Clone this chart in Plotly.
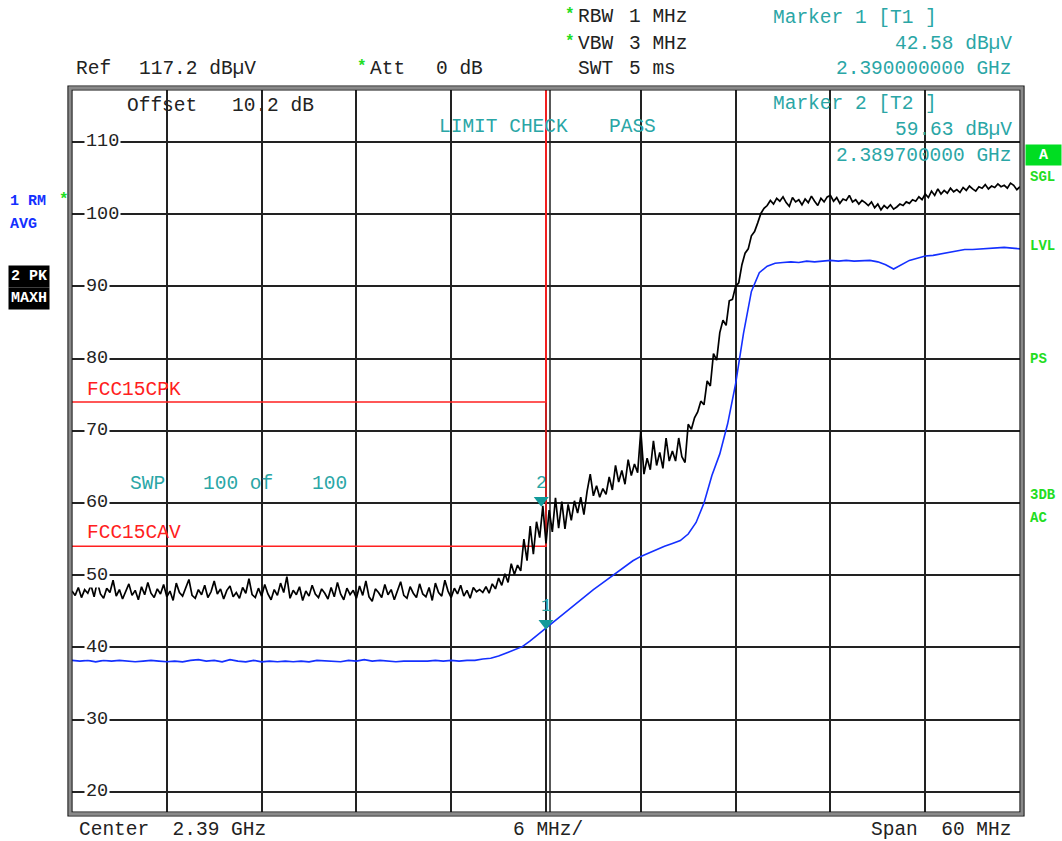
import numpy as np
import plotly.graph_objects as go

# ---------------- data ----------------
F_START_GHZ = 2.36
F_STOP_GHZ = 2.42

# Trace 2: PK / MAXH (black), 301 sweep points
pk_vals = [
    47.8, 47.2, 48.3, 46.9, 48.0, 47.5, 48.6, 47.0, 49.1, 47.4, 46.8, 48.2, 47.6, 49.3, 47.1, 48.0, 46.7, 47.9, 48.8, 47.2,
    47.9, 46.6, 48.4, 47.3, 49.0, 47.5, 46.9, 48.1, 47.4, 48.7, 47.0, 47.8, 46.5, 48.9, 47.6, 47.1, 48.3, 49.4, 47.2, 46.8,
    48.0, 47.3, 48.6, 46.9, 47.7, 49.2, 47.4, 48.1, 46.7, 47.9, 48.5, 47.0, 47.6, 46.8, 48.3, 47.5, 49.5, 47.3, 46.9, 48.2,
    47.1, 48.7, 47.4, 46.6, 48.0, 47.2, 48.9, 47.6, 49.8, 46.8, 47.9, 47.3, 48.4, 46.5, 47.8, 47.1, 48.6, 47.4, 46.9, 48.1,
    47.5, 46.7, 48.3, 47.0, 49.0, 47.4, 46.6, 48.2, 47.3, 47.9, 46.8, 48.5, 47.2, 49.2, 47.0, 46.4, 48.1, 47.6, 46.9, 48.7,
    47.3, 48.0, 46.6, 47.8, 49.1, 47.2, 46.8, 48.4, 47.5, 46.9, 48.8, 47.4, 47.0, 48.3, 46.5, 48.9, 47.6, 47.1, 49.3, 47.8,
    46.9, 48.2, 47.4, 48.6, 47.1, 47.9, 46.8, 48.3, 47.7, 48.0,
    47.6, 48.4, 47.5, 48.8, 48.1, 49.6, 48.6, 50.2, 49.0, 51.6,
    50.1, 51.4, 50.6, 55.0, 52.0, 56.8, 52.9, 57.4, 55.2, 59.6,
    54.4, 59.0, 56.0, 60.7, 56.5, 60.2, 56.4, 59.8, 57.6, 60.3,
    58.6, 60.8, 58.4, 61.6, 64.0, 61.0, 62.4, 60.8, 62.0, 61.2,
    63.6, 61.8, 65.2, 62.9, 64.5, 62.6, 66.0, 63.8, 65.4, 64.2,
    70.0, 64.0, 66.2, 64.6, 68.6, 65.2, 67.0, 64.8, 69.0, 65.8,
    67.2, 65.8, 69.0, 66.4, 65.6, 70.9, 70.2, 71.8, 72.6, 74.1,
    73.6, 76.9, 76.2, 80.7, 79.8, 83.6, 85.3, 84.6, 88.0, 88.2,
    90.0, 90.5, 93.0, 94.6, 95.2, 97.0, 97.6, 98.8, 100.1, 100.8,
    101.2,
    101.9, 101.4, 102.2, 101.8, 102.4, 101.6, 101.1, 102.3, 101.7, 102.0, 101.3, 102.1, 101.6, 102.5, 101.8, 101.2, 102.2, 101.7, 102.4, 102.6,
    101.8, 102.3, 101.5, 102.1, 101.9, 102.6, 101.7, 102.0, 101.4, 101.9, 101.6, 101.2, 101.7, 100.9, 101.4, 100.6, 101.2, 100.8, 101.3, 100.7,
    101.0, 101.4, 101.2, 101.7, 101.5, 102.0, 101.8, 102.4, 102.0, 102.8, 102.3, 103.2, 102.6, 103.5, 102.8, 103.3, 102.9, 103.6, 103.1, 103.4,
    103.0, 103.7, 103.3, 103.9, 103.5, 103.2, 103.8, 103.6, 104.1, 103.5, 103.9, 103.7, 104.2, 103.8, 104.0, 103.6, 104.3, 104.0, 103.4, 103.8,
]

# Trace 1: RM / AVG (blue), 121 sweep points
avg_vals = [
    38.2, 38.1, 38.2, 38.0, 38.2, 38.1, 38.2, 38.1, 38.0, 38.1, 38.2, 38.1, 38.0, 38.1, 38.0, 38.2, 38.3, 38.1, 38.2, 38.0,
    38.3, 38.1, 38.0, 38.2, 38.0, 38.1, 38.0, 38.1, 38.0, 38.1, 38.0, 38.2, 38.1, 38.1, 38.0, 38.2, 38.1, 38.3, 38.1, 38.2,
    38.1, 38.0, 38.1, 38.1, 38.0, 38.1, 38.2, 38.1, 38.2, 38.1,
    38.2, 38.2, 38.4, 38.5, 38.8, 39.2, 39.6, 40.1, 40.9, 41.8,
    42.6, 43.5, 44.4, 45.4, 46.3, 47.2, 48.0, 48.8, 49.6, 50.4,
    51.2, 52.0, 52.6, 53.1, 53.5, 54.0, 54.4, 54.8, 55.7, 57.3,
    60.0, 63.8, 66.8, 71.0, 76.5, 83.5, 89.3, 91.9, 92.8, 93.2,
    93.3, 93.4, 93.3, 93.5, 93.4, 93.5, 93.6, 93.5, 93.6, 93.5,
    93.6, 93.6, 93.4, 93.0, 92.4, 93.0, 93.6, 93.9, 94.2, 94.3,
    94.5, 94.6, 94.9, 95.1, 95.1, 95.2, 95.2, 95.3, 95.4, 95.3, 95.2,
]

marker_labels = ["1", "2"]
marker_freqs = [2.39, 2.3897]
marker_vals = [42.58, 59.63]

limit_names = ["FCC15CPK", "FCC15CAV"]
limit_vals = [74.0, 54.0]
limit_edge_ghz = 2.39

ref_level = 117.2
y_bottom = 17.2
y_ticks = [20, 30, 40, 50, 60, 70, 80, 90, 100, 110]

# ---------------- layout constants ----------------
W, H = 1062, 841
L, R, T, B = 72, 1020, 90, 812
PW, PH = R - L, B - T
FONT = "Courier New, Liberation Mono, monospace"
FS = 19.5
DARK = "#222222"
TEAL = "#2aa6a6"
GREEN = "#22dd22"
BLUE = "#1430ff"
RED = "#ff2020"


def px(x):
    return (x - L) / PW


def py(y):
    return (B - y) / PH


freq_pk = np.linspace(F_START_GHZ, F_STOP_GHZ, len(pk_vals))
freq_avg = np.linspace(F_START_GHZ, F_STOP_GHZ, len(avg_vals))

fig = go.Figure()

# limit lines
for name, v in zip(limit_names, limit_vals):
    fig.add_trace(go.Scatter(
        x=[F_START_GHZ, limit_edge_ghz, limit_edge_ghz],
        y=[v, v, ref_level],
        mode="lines", line=dict(color=RED, width=1.5),
        hoverinfo="skip", showlegend=False))

fig.add_trace(go.Scatter(x=freq_avg, y=avg_vals, mode="lines",
                         line=dict(color=BLUE, width=1.6), showlegend=False))
fig.add_trace(go.Scatter(x=freq_pk, y=pk_vals, mode="lines",
                         line=dict(color="#000000", width=1.7), showlegend=False))

# markers (triangle tip on the trace)
fig.add_trace(go.Scatter(
    x=marker_freqs, y=[v + 0.75 for v in marker_vals], mode="markers",
    marker=dict(symbol="triangle-down", size=13, color="#129a9a"),
    showlegend=False))

annotations = []


def txt(s, x, y, color=DARK, size=FS, anchor="left", bold=False, **kw):
    a = dict(text=s, xref="paper", yref="paper", x=px(x), y=py(y),
             xanchor=anchor, yanchor="middle", showarrow=False,
             font=dict(family=FONT, size=size, color=color,
                       weight="bold" if bold else "normal"))
    a.update(kw)
    annotations.append(a)


# marker numbers
for lab, f, v in zip(marker_labels, marker_freqs, marker_vals):
    annotations.append(dict(text=lab, x=f, y=v, xref="x", yref="y",
                            yshift=23, showarrow=False,
                            font=dict(family=FONT, size=18, color=TEAL)))

# y tick labels inside plot
for t in y_ticks:
    annotations.append(dict(text=str(t), xref="paper", yref="y", x=px(84), y=t,
                            xanchor="left", yanchor="middle", showarrow=False,
                            bgcolor="white", borderpad=1,
                            font=dict(family=FONT, size=18.5, color=DARK)))

# header texts
txt("Ref", 74, 69)
txt("117.2 dBµV", 137, 69)
txt("*", 355, 67, color=GREEN, size=16, bold=True)
txt("Att", 368, 69)
txt("0 dB", 434, 69)
txt("*", 563, 15, color=GREEN, size=16, bold=True)
txt("RBW", 576, 17)
txt("1 MHz", 627, 17)
txt("*", 563, 42, color=GREEN, size=16, bold=True)
txt("VBW", 576, 44)
txt("3 MHz", 627, 44)
txt("SWT", 576, 69)
txt("5 ms", 627, 69)

txt("Marker 1 [T1 ]", 771, 18, color=TEAL)
txt("42.58 dBµV", 1014, 44, color=TEAL, anchor="right")
txt("2.390000000 GHz", 1014, 69, color=TEAL, anchor="right")
txt("Marker 2 [T2 ]", 771, 104, color=TEAL)
txt("59.63 dBµV", 1014, 130, color=TEAL, anchor="right")
txt("2.389700000 GHz", 1014, 156, color=TEAL, anchor="right")

txt("Offset", 125, 106)
txt("10.2 dB", 230, 106)
txt("LIMIT CHECK", 437, 127, color=TEAL)
txt("PASS", 607, 127, color=TEAL)
txt("SWP", 128, 484, color=TEAL)
txt("100 of", 201, 484, color=TEAL)
txt("100", 310, 484, color=TEAL)
txt(limit_names[0], 85, 390, color=RED)
txt(limit_names[1], 85, 533, color=RED)

txt("Center  2.39 GHz", 77, 830)
txt("6 MHz/", 511, 830)
txt("Span  60 MHz", 1013, 830, anchor="right")

# left side trace info
txt("1 RM", 8, 201, color=BLUE, size=15, bold=True)
txt("*", 57, 200, color=GREEN, size=16, bold=True)
txt("AVG", 8, 224, color=BLUE, size=15, bold=True)
txt("2 PK", 8, 276, color="white", size=15, bold=True, bgcolor="black", borderpad=2)
txt("MAXH", 8, 298, color="white", size=15, bold=True, bgcolor="black", borderpad=2)

# right side status
annotations.append(dict(text="A", xref="paper", yref="paper", x=px(1025), y=py(155),
                        xanchor="left", yanchor="middle", showarrow=False,
                        bgcolor="#00dd22", width=33, height=18,
                        font=dict(family=FONT, size=15, color="white", weight="bold")))
for s, yy in [("SGL", 177), ("LVL", 246), ("PS", 359), ("3DB", 495), ("AC", 518)]:
    txt(s, 1028, yy, color=GREEN, size=14, bold=True)

# frame (double line) + doubled center grid line
shapes = []
shapes.append(dict(type="rect", xref="paper", yref="paper",
                   x0=px(L - 2), x1=px(R + 2), y0=py(B + 2), y1=py(T - 2),
                   line=dict(color="#8a8a8a", width=3), layer="above"))
for off in (0, 4):
    shapes.append(dict(type="rect", xref="paper", yref="paper",
                       x0=px(L - off), x1=px(R + off), y0=py(B + off), y1=py(T - off),
                       line=dict(color="#111111", width=1.2), layer="above"))
shapes.append(dict(type="line", xref="paper", yref="paper",
                   x0=px(550), x1=px(550), y0=0, y1=1,
                   line=dict(color="#222222", width=1.5), layer="below"))

fig.update_layout(
    width=W, height=H,
    margin=dict(l=L, r=W - R, t=T, b=H - B, pad=0),
    paper_bgcolor="white", plot_bgcolor="white",
    showlegend=False,
    annotations=annotations, shapes=shapes,
    xaxis=dict(range=[F_START_GHZ, F_STOP_GHZ], tick0=F_START_GHZ, dtick=0.006,
               showgrid=True, gridcolor="#222222", gridwidth=1.8,
               showticklabels=False, zeroline=False, showline=False, ticks=""),
    yaxis=dict(range=[y_bottom, ref_level], tick0=0, dtick=10,
               showgrid=True, gridcolor="#222222", gridwidth=1.8,
               showticklabels=False, zeroline=False, showline=False, ticks=""),
)

fig.write_html(
    "out.html",
    config={"displayModeBar": False},
    post_script="document.body.style.margin='0';document.body.style.overflow='hidden';",
)
